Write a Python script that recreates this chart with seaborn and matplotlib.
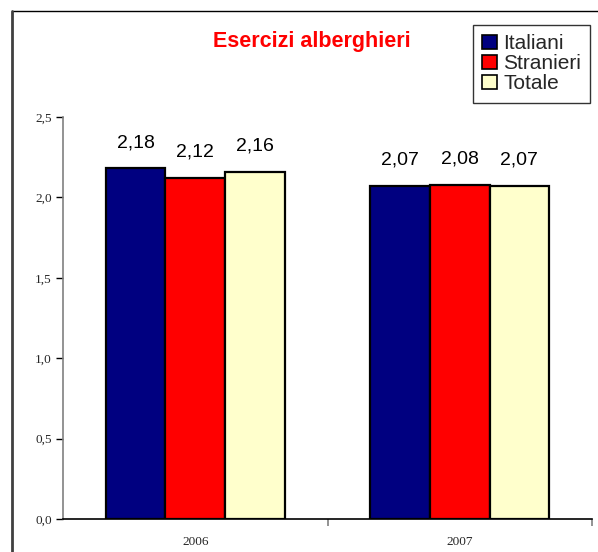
import matplotlib
matplotlib.use("Agg")
import matplotlib.pyplot as plt
from matplotlib.lines import Line2D
from matplotlib.ticker import FixedLocator
import seaborn as sns
import pandas as pd

# Dati: permanenza media negli esercizi alberghieri
anni = ["2006", "2007"]
italiani = [2.18, 2.07]
stranieri = [2.12, 2.08]
totale = [2.16, 2.07]
serie = ["Italiani", "Stranieri", "Totale"]
colori = ["#000080", "#FF0000", "#FFFFCC"]
y_ticks = [0.0, 0.5, 1.0, 1.5, 2.0, 2.5]

df = pd.DataFrame({
    "anno": anni * 3,
    "valore": italiani + stranieri + totale,
    "tipo": [s for s in serie for _ in anni],
})

sns.set_theme(style="white")
plt.rcParams["font.family"] = ["Liberation Sans", "DejaVu Sans"]

fig = plt.figure(figsize=(5.98, 5.52), dpi=100)
ax = fig.add_axes([63 / 598, 1 - 519 / 552, (592 - 63) / 598, (519 - 117) / 552])

sns.barplot(data=df, x="anno", y="valore", hue="tipo", hue_order=serie,
            palette=colori, saturation=1, edgecolor="black", linewidth=1.6,
            width=0.675, gap=0, ax=ax, legend=True)

# Etichette dei valori sopra le barre
for cont in ax.containers:
    ax.bar_label(cont, labels=[f"{v:.2f}".replace(".", ",") for v in cont.datavalues],
                 padding=12.5, fontsize=14, color="black")

ax.set_xlim(-0.5, 1.5)
ax.set_ylim(0, 2.5)
ax.set_xlabel("")
ax.set_ylabel("")

# Assi
for s in ["top", "right"]:
    ax.spines[s].set_visible(False)
ax.spines["left"].set_color("#808080")
ax.spines["left"].set_linewidth(1.2)
ax.spines["bottom"].set_color("black")
ax.spines["bottom"].set_linewidth(1.2)

ax.yaxis.set_major_locator(FixedLocator(y_ticks))
ax.set_yticklabels([f"{t:.1f}".replace(".", ",") for t in y_ticks],
                   fontfamily="Liberation Serif", fontsize=9.5)
ax.tick_params(axis="y", which="major", length=5, width=1, color="black",
               direction="out", left=True, pad=3)
ax.tick_params(axis="x", which="major", length=0, pad=12)
for lab in ax.get_xticklabels():
    lab.set_fontfamily("Liberation Serif")
    lab.set_fontsize(9.5)
ax.xaxis.set_minor_locator(FixedLocator([0.5, 1.5]))
ax.tick_params(axis="x", which="minor", length=5, width=1.2, color="#808080",
               direction="out", bottom=True)
ax.grid(False)

# Legenda
leg = ax.legend(loc="upper left", bbox_to_anchor=(473 / 598, 1 - 25 / 552),
                bbox_transform=fig.transFigure, frameon=True, fancybox=False,
                fontsize=15, handlelength=0.7, handleheight=0.7,
                handletextpad=0.3, labelspacing=0.05, borderpad=0.45,
                borderaxespad=0, edgecolor="black")
leg.get_frame().set_linewidth(1.0)
for h in leg.legend_handles:
    h.set_edgecolor("black")
    h.set_linewidth(1.2)

# Titolo
fig.text(312 / 598, 1 - 42 / 552, "Esercizi alberghieri", color="#FF0000",
         fontsize=15.5, fontweight="bold", ha="center", va="center")

# Cornice del grafico
fig.add_artist(Line2D([12 / 598, 1.0], [1 - 11 / 552, 1 - 11 / 552],
                      transform=fig.transFigure, color="black", linewidth=1.0))
fig.add_artist(Line2D([12 / 598, 12 / 598], [0, 1 - 11 / 552],
                      transform=fig.transFigure, color="#404040", linewidth=2.0))

fig.savefig("out.png", dpi=100)
